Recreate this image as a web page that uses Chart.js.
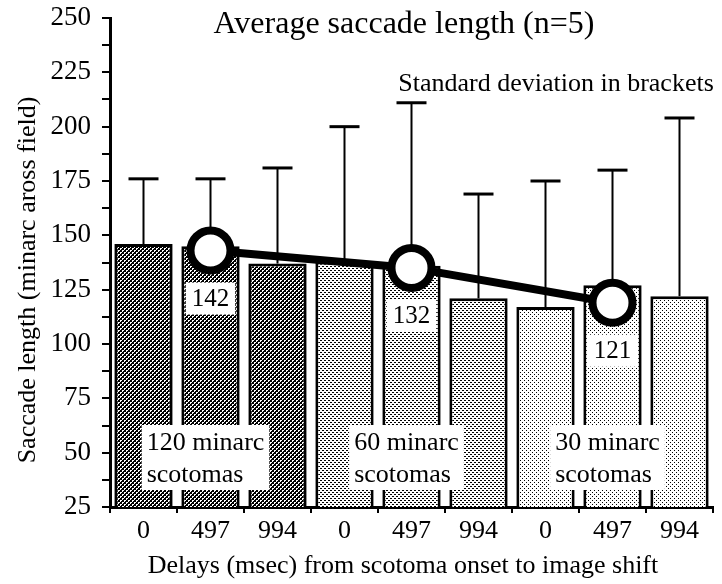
<!DOCTYPE html>
<html lang="en">
<head>
<meta charset="UTF-8">
<title>Average saccade length</title>
<script src="https://cdn.jsdelivr.net/npm/chart.js"></script>
<style>
    html, body { margin: 0; padding: 0; background: #fff; }
    #wrap { width: 722px; height: 584px; position: relative; }
</style>
</head>
<body>
<div id="wrap"><canvas id="saccadeChart" width="722" height="584"></canvas></div>
<script>
// values
var delays = ['0', '497', '994', '0', '497', '994', '0', '497', '994'];
var meanLength = [146, 145, 137, 138, 136, 121, 117, 127, 122];
var sdLength = [30, 31, 44, 62, 75, 48, 58, 53, 82];
var avgAt497 = [null, 143, null, null, 135, null, null, 119, null];
var avgLabels = ['142', '132', '121'];
var groupNames = [['120 minarc', 'scotomas'], ['60 minarc', 'scotomas'], ['30 minarc', 'scotomas']];
var groupOf = [0, 0, 0, 1, 1, 1, 2, 2, 2];

var SERIF = "'Liberation Serif', 'Times New Roman', serif";

// small bitmap fills to mimic the screened bars
function makePattern(bg, fg, cells) {
    var c = document.createElement('canvas');
    c.width = 4; c.height = 4;
    var g = c.getContext('2d');
    g.fillStyle = bg;
    g.fillRect(0, 0, 4, 4);
    g.fillStyle = fg;
    cells.forEach(function (p) { g.fillRect(p[0], p[1], 1, 1); });
    return g.createPattern(c, 'repeat');
}
var patterns = [
    makePattern('#000', '#fff', [[0, 0], [1, 0], [0, 1], [2, 2], [3, 2], [2, 3]]),
    makePattern('#fff', '#000', [[0, 0], [1, 0], [2, 2], [3, 2]]),
    makePattern('#fff', '#000', [[0, 0], [2, 2]])
];
var fills = groupOf.map(function (g) { return patterns[g]; });

// upward-only SD whiskers, drawn under the bars
var errorBars = {
    id: 'errorBars',
    beforeDatasetsDraw: function (chart) {
        var ctx = chart.ctx, xs = chart.scales.x, ys = chart.scales.y;
        ctx.save();
        ctx.strokeStyle = '#000';
        meanLength.forEach(function (m, i) {
            var px = xs.getPixelForValue(i);
            var y0 = ys.getPixelForValue(m);
            var y1 = ys.getPixelForValue(m + sdLength[i]);
            ctx.lineWidth = 2;
            ctx.beginPath(); ctx.moveTo(px, y0); ctx.lineTo(px, y1); ctx.stroke();
            ctx.lineWidth = 3;
            ctx.beginPath(); ctx.moveTo(px - 15, y1); ctx.lineTo(px + 15, y1); ctx.stroke();
        });
        ctx.restore();
    }
};

// value boxes, group boxes and titles
var annotations = {
    id: 'annotations',
    afterDatasetsDraw: function (chart) {
        var ctx = chart.ctx, xs = chart.scales.x, ys = chart.scales.y, area = chart.chartArea;
        ctx.save();
        ctx.font = '25px ' + SERIF;
        ctx.textAlign = 'center';
        ctx.textBaseline = 'middle';
        var k = 0;
        avgAt497.forEach(function (v, i) {
            if (v === null) return;
            var t = avgLabels[k++];
            var px = xs.getPixelForValue(i), py = ys.getPixelForValue(v) + 48;
            var w = ctx.measureText(t).width + 12;
            ctx.fillStyle = '#fff';
            ctx.fillRect(px - w / 2, py - 16, w, 32);
            ctx.fillStyle = '#000';
            ctx.fillText(t, px, py + 1);
        });

        ctx.font = '26px ' + SERIF;
        ctx.textAlign = 'left';
        groupNames.forEach(function (lines, g) {
            var cx = xs.getPixelForValue(g * 3 + 1) - 5;
            var w = Math.max(ctx.measureText(lines[0]).width, ctx.measureText(lines[1]).width) + 10;
            var top = area.bottom - 82;
            ctx.fillStyle = '#fff';
            ctx.fillRect(cx - w / 2, top, w, 65);
            ctx.fillStyle = '#000';
            ctx.fillText(lines[0], cx - w / 2 + 5, area.bottom - 64);
            ctx.fillText(lines[1], cx - w / 2 + 5, area.bottom - 32);
        });
        ctx.restore();
    },
    afterDraw: function (chart) {
        var ctx = chart.ctx;
        ctx.save();
        ctx.fillStyle = '#000';
        ctx.textAlign = 'center';
        ctx.textBaseline = 'middle';
        ctx.font = '32px ' + SERIF;
        ctx.fillText('Average saccade length (n=5)', 404, 25);
        ctx.font = '26px ' + SERIF;
        ctx.fillText('Standard deviation in brackets', 556, 84);
        ctx.fillText('Delays (msec) from scotoma onset to image shift', 403, 566);
        ctx.translate(28, 280);
        ctx.rotate(-Math.PI / 2);
        ctx.fillText('Saccade length (minarc aross field)', 0, 0);
        ctx.restore();
    }
};

var ctx = document.getElementById('saccadeChart').getContext('2d');
var chart = new Chart(ctx, {
    type: 'bar',
    data: {
        labels: delays,
        datasets: [
            {
                type: 'line',
                data: avgAt497,
                spanGaps: true,
                tension: 0,
                borderColor: '#000',
                borderWidth: 8,
                pointRadius: 20,
                pointHoverRadius: 20,
                pointBorderWidth: 8,
                pointBackgroundColor: '#fff',
                pointBorderColor: '#000',
                order: 0
            },
            {
                type: 'bar',
                data: meanLength,
                backgroundColor: fills,
                borderColor: '#000',
                borderWidth: 3,
                barPercentage: 0.87,
                categoryPercentage: 1,
                order: 1
            }
        ]
    },
    options: {
        responsive: false,
        animation: false,
        devicePixelRatio: 1,
        events: [],
        layout: { autoPadding: false, padding: { top: 18, right: 9, left: 0, bottom: 0 } },
        plugins: { legend: { display: false }, tooltip: { enabled: false } },
        scales: {
            x: {
                grid: { offset: true, drawOnChartArea: false, drawTicks: true, tickLength: 6, color: '#000', lineWidth: 2 },
                border: { color: '#000', width: 3 },
                ticks: { color: '#000', font: { family: SERIF, size: 26 }, padding: 3, maxRotation: 0, autoSkip: false },
                afterFit: function (s) { s.height = 77; }
            },
            y: {
                min: 25,
                max: 250,
                grid: { drawOnChartArea: false, drawTicks: true, tickLength: 8, color: '#000', lineWidth: 2 },
                border: { color: '#000', width: 3 },
                ticks: {
                    stepSize: 12.5,
                    autoSkip: false,
                    color: '#000',
                    padding: 11,
                    font: { family: SERIF, size: 27 },
                    callback: function (v) { return v % 25 === 0 ? v : ''; }
                },
                afterFit: function (s) {
                    s.width = 110;
                    s.paddingTop = 0;
                    s.paddingBottom = 0;
                }
            }
        }
    },
    plugins: [errorBars, annotations]
});
</script>
</body>
</html>
